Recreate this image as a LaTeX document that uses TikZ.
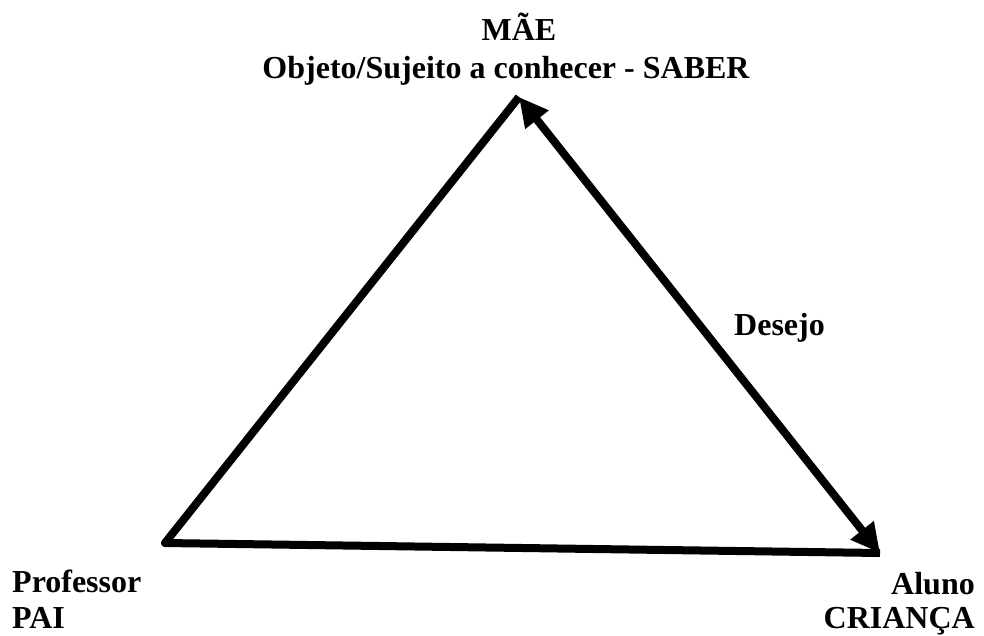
\documentclass[tikz,border=0pt]{standalone}
\usepackage{fontspec}
\setmainfont{Liberation Serif}
\usetikzlibrary{arrows.meta}
\begin{document}
\begin{tikzpicture}[x=1pt,y=-1pt,
  lbl/.style={font=\fontsize{32}{38}\selectfont\bfseries, inner sep=0pt, anchor=base},
  side/.style={line width=8pt, line cap=butt, line join=round},
  dbl/.style={line width=8pt, {Triangle[length=29pt,width=28pt]}-{Triangle[length=29pt,width=28pt]}}]
\useasboundingbox (0,0) rectangle (984,635);
\coordinate (mae) at (519,97);
\coordinate (prof) at (165,543);
\coordinate (aluno) at (880,553);
\node[lbl] (t1) at (519,40) {MÃE};
\node[lbl] (t2) at (506,78) {Objeto/Sujeito a conhecer - SABER};
\node[lbl, anchor=base west] (p1) at (12,592) {Professor};
\node[lbl, anchor=base west] (p2) at (12,628) {PAI};
\node[lbl, anchor=base east] (a1) at (975,594) {Aluno};
\node[lbl, anchor=base east] (a2) at (975,628) {CRIANÇA};
\node[lbl, anchor=base west] (d) at (734,335) {Desejo};
\draw[side] (mae) -- (prof) -- (aluno);
\draw[dbl] (aluno) -- (mae);
\end{tikzpicture}
\end{document}
